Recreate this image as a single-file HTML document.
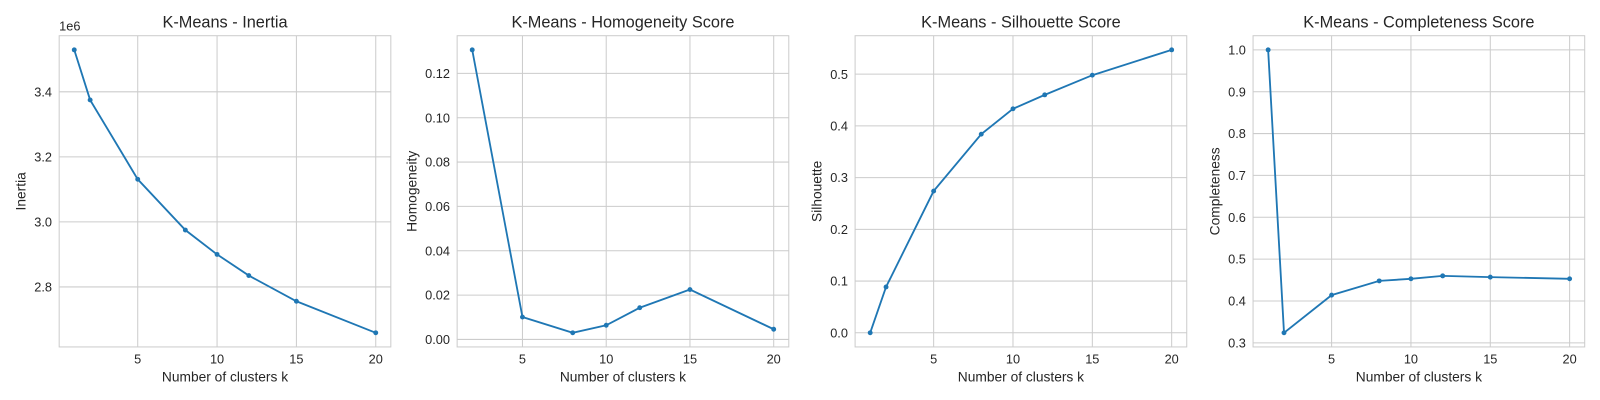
<!DOCTYPE html>
<html><head><meta charset="utf-8"><style>
body{margin:0;background:#fff;font-family:"Liberation Sans",sans-serif;}
svg{display:block;}
svg text{font-family:"Liberation Sans",sans-serif;fill:#262626;}
</style></head><body>
<svg id="c" width="1600" height="400" viewBox="0 0 1568 392"></svg>
<script>
const inertiaK=[1,2,5,8,10,12,15,20];
const inertiaV=[3.529,3.375,3.131,2.975,2.9,2.835,2.756,2.659];
const homoK=[2,5,8,10,12,15,20];
const homoV=[0.1306,0.0101,0.003,0.0064,0.0143,0.0225,0.0046];
const silK=[1,2,5,8,10,12,15,20];
const silV=[0,0.0886,0.274,0.384,0.433,0.46,0.498,0.547];
const compK=[1,2,5,8,10,12,15,20];
const compV=[1.0,0.324,0.414,0.448,0.453,0.46,0.457,0.453];
const xTicks=[5,10,15,20];
const inertiaTicks=[2.8,3.0,3.2,3.4];
const homoTicks=[0,0.02,0.04,0.06,0.08,0.10,0.12];
const silTicks=[0,0.1,0.2,0.3,0.4,0.5];
const compTicks=[0.3,0.4,0.5,0.6,0.7,0.8,0.9,1.0];
const titles=["K-Means - Inertia","K-Means - Homogeneity Score","K-Means - Silhouette Score","K-Means - Completeness Score"];
const ylabels=["Inertia","Homogeneity","Silhouette","Completeness"];
const NS="http://www.w3.org/2000/svg";
const svg=document.getElementById('c');
function mk(t,a,p){const e=document.createElementNS(NS,t);for(const k in a)e.setAttribute(k,a[k]);(p||svg).appendChild(e);return e;}
const panels=[
 {k:inertiaK,v:inertiaV,t:inertiaTicks,left:58,dec:1,off:"1e6"},
 {k:homoK,v:homoV,t:homoTicks,left:448,dec:2},
 {k:silK,v:silV,t:silTicks,left:838,dec:1},
 {k:compK,v:compV,t:compTicks,left:1228,dec:1}];
const pTop=35,pBot=340,W=325;
panels.forEach((p,i)=>{
 const g=mk('g',{});
 
 
 const xmin=Math.min(...p.k),xmax=Math.max(...p.k),xm=(xmax-xmin)*0.05;
 const ymin=Math.min(...p.v),ymax=Math.max(...p.v),ym=(ymax-ymin)*0.05;
 const X=x=>p.left+(x-(xmin-xm))/((xmax+xm)-(xmin-xm))*W;
 const Y=y=>pBot-(y-(ymin-ym))/((ymax+ym)-(ymin-ym))*(pBot-pTop);
 mk('rect',{x:p.left,y:pTop,width:W,height:pBot-pTop,fill:'#fff'},g);
 xTicks.forEach(t=>{const x=X(t);
  const l=mk('line',{x1:x,x2:x,y1:pTop,y2:pBot,stroke:'#cccccc','stroke-width':1},g);
  
  const tx=mk('text',{x:x,y:pBot+16,'text-anchor':'middle','font-size':12.5},g);tx.textContent=t;
  });
 p.t.forEach(t=>{const y=Y(t);
  const l=mk('line',{x1:p.left,x2:p.left+W,y1:y,y2:y,stroke:'#cccccc','stroke-width':1},g);
  
  const tx=mk('text',{x:p.left-7,y:y+4.5,'text-anchor':'end','font-size':12.5},g);tx.textContent=t.toFixed(p.dec);
  });
 const fr=mk('rect',{x:p.left,y:pTop,width:W,height:pBot-pTop,fill:'none',stroke:'#cccccc','stroke-width':1},g);
 
 const pts=p.k.map((k,j)=>X(k)+','+Y(p.v[j])).join(' ');
 const pl=mk('polyline',{points:pts,fill:'none',stroke:'#1f77b4','stroke-width':1.8},g);
 
 p.k.forEach((k,j)=>{const c=mk('circle',{cx:X(k),cy:Y(p.v[j]),r:2.4,fill:'#1f77b4'},g);
  });
 const ti=mk('text',{x:p.left+W/2,y:27,'text-anchor':'middle','font-size':16},g);ti.textContent=titles[i];
 
 const xl=mk('text',{x:p.left+W/2,y:374,'text-anchor':'middle','font-size':13.5},g);xl.textContent='Number of clusters k';
 
 const yx=p.left-(p.dec==2?40:33);
 const yl=mk('text',{x:yx,y:(pTop+pBot)/2,'text-anchor':'middle','font-size':13.5,transform:`rotate(-90 ${yx} ${(pTop+pBot)/2})`},g);yl.textContent=ylabels[i];
 
 if(p.off){const o=mk('text',{x:p.left,y:30,'font-size':12.5},g);o.textContent=p.off;
  }
});
</script>
</body></html>
